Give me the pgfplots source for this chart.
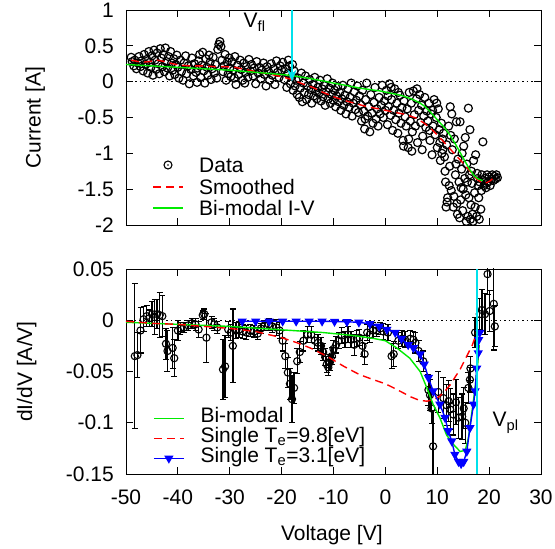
\documentclass[border=0pt]{standalone}
\usepackage{fontspec}
\setmainfont{Liberation Sans}
\usepackage{pgfplots}
\usepackage{pgfplotstable}
\pgfplotsset{compat=1.18}
\usetikzlibrary{arrows.meta}
\definecolor{gpgreen}{RGB}{0,235,0}
\definecolor{gpred}{RGB}{255,0,0}
\definecolor{gpblue}{RGB}{0,0,255}
\definecolor{gpcyan}{RGB}{0,225,235}
\newcommand{\gpfont}{\fontsize{21}{22}\selectfont}
\pgfplotsset{gp/.style={
  scale only axis, width=415pt,
  xmin=-50, xmax=30,
  xtick={-50,-40,-30,-20,-10,0,10,20,30},
  tick align=inside, xtick pos=both, ytick pos=both,
  major tick length=7pt,
  axis line style={line width=0.9pt},
  every tick/.style={black, line width=0.9pt},
  tick label style={font=\gpfont},
  label style={font=\gpfont},
  yticklabel style={xshift=-5pt},
  xticklabel style={yshift=-9pt},
  clip marker paths=true,
  legend style={draw=none, fill=none, font=\gpfont, inner sep=0pt,
    column sep=16pt, row sep=-1.5pt,
    nodes={inner sep=0pt, text height=15pt, text depth=6.5pt}},
  legend cell align=left,
  legend image code/.code={\draw[mark repeat=2,mark phase=2,##1] plot coordinates {(0pt,0pt) (15pt,0pt) (30pt,0pt)};},
}}
\pgfplotstableread{
V D E
-48.3 -0.035 0.071
-47.8 -0.034 0.022
-47.2 -0.010 0.022
-46.6 0.001 0.012
-46.0 0.004 0.010
-45.5 0.002 0.008
-45.0 0.006 0.012
-44.5 0.003 0.017
-44.0 0.006 0.014
-43.5 0.005 0.022
-43.0 0.004 0.020
-42.3 -0.023 0.015
-42.0 -0.030 0.020
-41.0 -0.027 0.020
-40.7 -0.037 0.018
-40.0 -0.010 0.010
-39.5 -0.008 0.006
-38.8 -0.007 0.005
-38.0 -0.005 0.005
-37.3 -0.003 0.005
-36.6 -0.004 0.006
-36.0 -0.009 0.008
-35.2 0.005 0.004
-34.9 0.006 0.005
-34.5 -0.017 0.024
-33.5 -0.002 0.006
-33.0 -0.004 0.006
-32.4 -0.007 0.006
-31.3 -0.048 0.029
-30.9 -0.045 0.030
-30.3 -0.009 0.008
-29.8 -0.012 0.008
-29.4 -0.025 0.036
-28.8 -0.010 0.008
-28.2 -0.009 0.008
-27.5 -0.011 0.007
-26.8 -0.012 0.007
-26.0 -0.010 0.006
-25.3 -0.011 0.006
-24.6 -0.013 0.006
-24.0 -0.008 0.005
-23.3 -0.005 0.005
-22.5 -0.004 0.006
-21.8 -0.006 0.006
-21.0 -0.007 0.008
-20.4 -0.010 0.008
-19.8 -0.020 0.010
-19.3 -0.035 0.012
-18.8 -0.051 0.015
-18.4 -0.062 0.015
-18.0 -0.077 0.023
-17.6 -0.066 0.015
-17.0 -0.040 0.012
-16.5 -0.031 0.010
-15.8 -0.020 0.010
-15.0 -0.014 0.008
-14.3 -0.014 0.008
-13.6 -0.020 0.008
-13.0 -0.022 0.008
-12.4 -0.025 0.008
-12.0 -0.031 0.008
-11.6 -0.036 0.008
-11.3 -0.043 0.008
-11.0 -0.046 0.008
-10.7 -0.041 0.008
-10.3 -0.035 0.008
-10.0 -0.028 0.008
-9.5 -0.024 0.008
-9.0 -0.020 0.008
-8.4 -0.015 0.008
-7.8 -0.019 0.008
-7.2 -0.014 0.008
-6.6 -0.019 0.008
-6.0 -0.024 0.010
-5.5 -0.018 0.008
-5.0 -0.017 0.008
-4.4 -0.025 0.010
-4.0 -0.033 0.010
-3.5 -0.012 0.008
-3.0 -0.014 0.008
-2.4 -0.010 0.008
-1.7 -0.010 0.006
-1.0 -0.008 0.006
-0.4 -0.011 0.008
0.5 -0.012 0.008
1.2 -0.035 0.012
1.6 -0.033 0.012
2.5 -0.020 0.008
3.2 -0.018 0.008
3.8 -0.019 0.008
4.8 -0.018 0.008
5.4 -0.019 0.008
5.8 -0.022 0.010
6.4 -0.030 0.010
7.3 -0.040 0.010
8.3 -0.068 0.015
8.6 -0.073 0.015
8.9 -0.086 0.015
9.2 -0.123 0.035
10.2 -0.070 0.020
11.2 -0.076 0.020
11.8 -0.083 0.020
12.2 -0.079 0.020
12.5 -0.087 0.020
13.1 -0.092 0.020
13.6 -0.080 0.022
14.1 -0.095 0.020
14.8 -0.094 0.022
15.1 -0.086 0.020
15.4 -0.100 0.020
16.0 -0.066 0.015
16.3 -0.058 0.012
16.4 -0.047 0.012
17.3 -0.012 0.015
18.2 0.006 0.015
18.6 0.010 0.020
19.2 0.006 0.020
19.7 0.045 0.020
20.1 0.009 0.020
20.9 0.016 0.045
21.1 -0.006 0.020
}\dIdVdata
\begin{document}
\gpfont
\begin{tikzpicture}
\useasboundingbox (0pt,0pt) rectangle (555pt,549pt);
% ---------------- top panel ----------------
\begin{axis}[gp, at={(126pt,324pt)}, anchor=south west, height=215pt,
  ymin=-2, ymax=1,
  ytick={-2,-1.5,-1,-0.5,0,0.5,1},
  yticklabels={-2,-1.5,-1,-0.5,0,0.5,1},
  xticklabels={},
  ylabel={Current [A]},
  ylabel style={at={(axis description cs:-0.219,0.5)}, anchor=center}]
\addplot[black, dash pattern=on 1.5pt off 3pt, line width=0.9pt, forget plot] coordinates {(-50,0) (30,0)};
\addplot[black, only marks, mark=o, mark size=4pt, line width=1.2pt, forget plot] coordinates {
(-49.0,0.34) (-48.8,0.28) (-48.5,0.22) (-48.3,0.30) (-48.0,0.18) (-47.7,0.26) (-47.5,0.35) (-47.2,0.21) (-47.0,0.29) (-46.7,0.15) (-46.5,0.38) (-46.2,0.24)
(-46.0,0.31) (-45.8,0.12) (-45.6,0.42) (-45.4,0.27) (-45.2,0.20) (-45.0,0.36) (-44.8,0.09) (-44.6,0.44) (-44.4,0.30) (-44.2,0.17) (-44.0,0.40) (-43.8,0.25) (-43.6,0.11) (-43.4,0.46) (-43.2,0.33) (-43.0,0.21) (-42.8,0.38) (-42.6,0.14) (-42.4,0.47) (-42.2,0.28) (-42.0,0.19) (-41.8,0.35) (-41.6,0.08) (-41.4,0.42) (-41.2,0.26) (-41.0,0.16) (-40.8,0.32) (-40.6,0.10) (-40.4,0.24) (-40.2,0.37)
(-40.0,0.20) (-39.8,0.05) (-39.5,0.30) (-39.3,0.14) (-39.0,0.02) (-38.8,0.26) (-38.5,0.36) (-38.3,0.11) (-38.0,0.22) (-37.8,-0.03) (-37.5,0.17) (-37.3,0.33) (-37.0,0.08) (-36.8,0.25) (-36.5,0.13) (-36.3,-0.01) (-36.0,0.29) (-36.2,0.19)
(-35.8,0.38) (-35.6,0.06) (-35.4,0.23) (-35.2,0.41) (-35.0,0.15) (-34.8,-0.02) (-34.6,0.32) (-34.4,0.20) (-34.2,0.09) (-34.0,0.37) (-33.8,0.27) (-33.6,0.03) (-33.4,0.18) (-33.2,0.34) (-33.0,0.12) (-32.8,0.24) (-32.5,0.05) (-32.3,0.45) (-32.1,0.52) (-31.9,0.56) (-31.7,0.49) (-31.5,0.30) (-31.3,0.14) (-31.1,0.22) (-30.9,0.38) (-30.7,0.02) (-30.5,0.27) (-30.3,0.11) (-30.1,0.33) (-30.0,0.19)
(-29.8,0.07) (-29.6,0.28) (-29.3,0.16) (-29.0,0.35) (-28.8,-0.04) (-28.5,0.23) (-28.3,0.10) (-28.0,0.30) (-27.8,0.17) (-27.5,0.02) (-27.3,0.26) (-27.0,0.13) (-26.8,0.21) (-26.5,0.06) (-26.3,0.31) (-26.0,0.15) (-29.1,0.05) (-27.1,-0.02)
(-25.8,0.24) (-25.5,0.08) (-25.3,0.19) (-25.0,-0.03) (-24.8,0.28) (-24.5,0.12) (-24.3,0.20) (-24.0,0.04) (-23.8,0.16) (-23.5,0.26) (-23.3,0.10) (-23.0,-0.06) (-22.8,0.21) (-22.5,0.14) (-22.3,0.02) (-22.0,0.25) (-21.8,0.09) (-21.5,0.18) (-21.3,-0.04) (-21.0,0.29) (-20.8,0.13) (-20.5,0.06) (-20.3,0.22) (-20.0,0.16)
(-19.8,0.27) (-19.5,0.03) (-19.3,0.18) (-19.0,-0.08) (-18.8,0.11) (-18.5,0.22) (-18.3,-0.03) (-18.0,0.07) (-17.8,-0.12) (-17.6,0.15) (-17.4,-0.06) (-17.2,0.02) (-17.0,-0.18) (-18.7,0.30) (-17.9,0.24)
(-16.8,0.05) (-16.6,-0.22) (-16.4,-0.09) (-16.2,0.12) (-16.0,-0.28) (-15.8,-0.02) (-15.6,-0.15) (-15.4,0.08) (-15.2,-0.25) (-15.0,-0.06) (-14.8,-0.18) (-14.6,0.03) (-14.4,-0.11) (-14.2,-0.30) (-14.0,-0.04) (-13.8,-0.20) (-13.6,0.06) (-13.4,-0.13) (-13.2,-0.24) (-13.0,-0.08)
(-12.8,-0.16) (-12.6,0.02) (-12.4,-0.27) (-12.2,-0.10) (-12.0,-0.21) (-11.8,-0.05) (-11.6,-0.33) (-11.4,-0.14) (-11.2,0.04) (-11.0,-0.24) (-10.8,-0.09) (-10.6,-0.30) (-10.4,-0.18) (-10.2,-0.02) (-10.0,-0.26) (-9.8,-0.12) (-9.6,-0.35) (-9.4,-0.20) (-9.2,-0.07) (-9.0,-0.28)
(-8.8,-0.15) (-8.6,-0.40) (-8.4,-0.24) (-8.2,-0.05) (-8.0,-0.33) (-7.8,-0.19) (-7.6,-0.45) (-7.4,-0.28) (-7.2,-0.10) (-7.0,-0.36) (-6.8,-0.22) (-6.6,-0.02) (-6.4,-0.48) (-6.2,-0.30) (-6.0,-0.14) (-5.8,-0.39) (-5.6,-0.26) (-5.4,-0.06) (-5.2,-0.43) (-5.0,-0.20)
(-4.8,-0.32) (-4.6,-0.55) (-4.4,-0.12) (-4.2,-0.41) (-4.0,-0.66) (-3.8,-0.25) (-3.6,-0.02) (-3.4,-0.48) (-3.2,-0.35) (-3.0,-0.70) (-2.8,-0.18) (-2.6,-0.44) (-2.4,-0.58) (-2.2,-0.29) (-2.0,-0.08) (-1.8,-0.52) (-1.6,-0.38) (-1.4,-0.62) (-1.2,-0.22) (-1.0,-0.45) (-0.8,-0.33) (-0.6,-0.05) (-0.4,-0.50) (-0.2,-0.27) (0.0,-0.40) (-3.9,-0.52)
(0.2,-0.12) (0.4,-0.60) (0.6,-0.35) (0.8,-0.03) (1.0,-0.47) (1.2,-0.25) (1.4,-0.68) (1.6,-0.40) (1.8,-0.10) (2.0,-0.53) (2.2,-0.30) (2.4,-0.72) (2.6,-0.44) (2.8,-0.19) (3.0,-0.58) (3.2,-0.36) (3.4,-0.82) (3.6,-0.27) (3.8,-0.49) (4.0,-0.62) (1.1,-0.08) (2.5,-0.15) (3.5,-0.90) (0.5,-0.20)
(4.2,-0.38) (4.4,-0.92) (4.6,-0.15) (4.8,-0.55) (5.0,-0.30) (5.2,-0.70) (5.4,-0.13) (5.6,-0.46) (5.8,-0.62) (6.0,-0.24) (6.2,-0.85) (6.4,-0.40) (6.6,-0.18) (6.8,-0.57) (7.0,-0.33) (7.2,-0.76) (7.4,-0.48) (7.6,-0.22) (7.8,-0.64) (8.0,-0.41) (5.1,-0.97) (6.1,-0.10) (7.1,-0.95) (4.5,-0.80)
(8.2,-0.55) (8.4,-0.30) (8.6,-0.82) (8.8,-0.45) (9.0,-1.02) (9.2,-0.62) (9.4,-0.25) (9.6,-0.74) (9.8,-0.50) (10.0,-0.92) (10.2,-0.38) (10.4,-0.67) (10.6,-1.10) (10.8,-0.58) (11.0,-0.80) (9.1,-0.40) (9.9,-0.30) (10.5,-0.85) (8.5,-0.68) (10.9,-1.00)
(11.2,-0.72) (11.4,-1.05) (11.6,-1.40) (11.8,-0.88) (12.0,-1.62) (12.2,-0.62) (12.4,-1.18) (12.5,-0.35) (12.7,-1.52) (12.9,-0.95) (13.1,-1.75) (13.3,-0.80) (13.5,-1.30) (13.7,-0.56) (13.9,-1.85) (14.0,-1.08) (11.5,-1.25) (11.9,-1.68) (12.3,-1.45) (12.8,-0.45) (13.2,-1.60) (13.6,-1.15) (11.1,-0.95) (12.6,-0.75) (13.8,-1.70) (11.7,-1.75)
(14.2,-1.40) (14.4,-0.56) (14.5,-1.65) (14.7,-1.22) (14.9,-1.80) (15.1,-0.90) (15.3,-1.35) (15.5,-1.58) (15.7,-1.15) (15.9,-1.88) (16.0,-0.37) (16.2,-1.30) (16.3,-0.67) (16.5,-1.72) (16.7,-1.42) (16.9,-1.95) (17.0,-1.10) (14.3,-1.90) (14.8,-1.00) (15.0,-1.50) (15.6,-1.95) (16.1,-1.62) (16.6,-1.25) (15.4,-0.78) (14.6,-1.48) (16.8,-1.85) (15.8,-1.40) (16.4,-1.92)
(17.2,-1.55) (17.4,-1.02) (17.6,-1.88) (17.8,-1.35) (18.0,-1.62) (18.2,-1.40) (18.4,-1.78) (18.6,-1.30) (18.8,-0.84) (19.0,-1.45) (17.3,-1.75) (17.7,-1.28) (18.1,-1.92) (18.5,-1.52) (18.9,-1.38) (17.9,-1.45)
(19.2,-1.35) (19.4,-1.48) (19.6,-1.30) (19.8,-1.40) (20.0,-1.33) (20.2,-1.45) (20.4,-1.36) (20.6,-1.30) (20.8,-1.38) (21.0,-1.32) (21.2,-1.36) (21.4,-1.30) (21.6,-1.34) (19.5,-1.42)
};
\addplot[gpred, line width=1.4pt, dash pattern=on 8pt off 5pt, forget plot] coordinates {
(-49,0.30) (-47,0.27) (-45.5,0.28) (-44,0.30) (-42.5,0.28) (-41,0.25) (-39.5,0.23) (-37.5,0.22) (-35,0.22) (-33,0.21) (-31,0.21) (-29,0.20) (-27,0.17) (-25,0.14) (-22,0.10) (-20,0.07) (-18,0.03) (-16,-0.03) (-14,-0.08) (-12,-0.15) (-10,-0.21) (-8,-0.26) (-6,-0.30) (-4,-0.34) (-2,-0.37) (0,-0.40) (2,-0.43) (4,-0.46) (6,-0.51) (7.5,-0.58) (9,-0.67) (10.5,-0.78) (12,-0.90) (13,-0.98) (14.4,-1.09) (15.5,-1.18) (16.6,-1.27) (17.6,-1.36) (18.6,-1.41) (19.5,-1.41) (20.3,-1.38) (21.1,-1.32)
};
\addplot[gpgreen, line width=1.4pt, forget plot] coordinates {
(-50,0.24) (-45,0.22) (-40,0.20) (-35,0.18) (-30,0.16) (-25,0.13) (-20,0.10) (-18,0.085) (-15,0.05) (-12,0.01) (-10,-0.02) (-7,-0.06) (-5,-0.09) (-3,-0.11) (-1,-0.13) (1,-0.16) (3,-0.19) (5,-0.24) (6.5,-0.29) (7.5,-0.34) (8.5,-0.41) (9.5,-0.49) (10.5,-0.57) (11.5,-0.65) (12.5,-0.75) (13.5,-0.87) (14.5,-1.00) (15.5,-1.13) (16.3,-1.23) (17,-1.30) (17.7,-1.35) (18.3,-1.37) (18.8,-1.38)
};
\addplot[gpcyan, line width=1.7pt, forget plot, -{Stealth[length=12pt,width=9pt]}] coordinates {(-18,1) (-18,0)};
\node[font=\gpfont] at (axis cs:-25.2,0.83) {V\textsubscript{fl}};
\end{axis}
% top-panel key, drawn outside the axis
\draw[black, line width=1.1pt] (168pt,384pt) circle[radius=4pt];
\fill[black] (168pt,384pt) circle[radius=0.8pt];
\node[anchor=base west, inner sep=0pt, font=\gpfont] at (199pt,376.5pt) {Data};
\draw[draw=gpred, color=gpred, line width=1.4pt, dash pattern=on 8pt off 5pt] (153pt,362pt) -- (183pt,362pt);
\node[anchor=base west, inner sep=0pt, font=\gpfont, text=black] at (199pt,354.5pt) {Smoothed};
\draw[draw=gpgreen, color=gpgreen, line width=1.4pt] (153pt,341pt) -- (183pt,341pt);
\node[anchor=base west, inner sep=0pt, font=\gpfont, text=black] at (199pt,333.5pt) {Bi-modal I-V};
% ---------------- bottom panel ----------------
\begin{axis}[gp, at={(126pt,75pt)}, anchor=south west, height=205pt,
  ymin=-0.15, ymax=0.05,
  ytick={-0.15,-0.1,-0.05,0,0.05},
  yticklabels={-0.15,-0.1,-0.05,0,0.05},
  xticklabels={-50,-40,-30,-20,-10,0,10,20,30},
  xlabel={Voltage [V]},
  xlabel style={at={(axis description cs:0.496,-0.298)}, anchor=center},
  ylabel={dI/dV [A/V]},
  ylabel style={at={(axis description cs:-0.239,0.5)}, anchor=center},
  legend style={at={(axis description cs:0.065,0.325)}, anchor=north west}]
\addlegendimage{draw=gpgreen, line width=1.4pt}
\addlegendentry{Bi-modal}
\addlegendimage{draw=gpred, line width=1.4pt, dash pattern=on 8pt off 5pt}
\addlegendentry{Single T\textsubscript{e}=9.8[eV]}
\addlegendimage{draw=gpblue, line width=1.4pt, mark=triangle*, mark size=4pt, mark options={rotate=180, fill=gpblue, draw=gpblue}}
\addlegendentry{Single T\textsubscript{e}=3.1[eV]}
\addplot[black, dash pattern=on 1.5pt off 3pt, line width=0.9pt, forget plot] coordinates {(-50,0) (30,0)};
\addplot[black, only marks, mark=o, mark size=3.6pt, line width=1.1pt, forget plot,
  error bars/.cd, y dir=both, y explicit,
  error bar style={line width=1.3pt, black},
  error mark options={black, mark size=3pt, line width=1.1pt, rotate=90}]
  table[x=V, y=D, y error=E] {\dIdVdata};
\addplot[gpgreen, line width=1.4pt, forget plot] coordinates {
(-50,-0.002) (-40,-0.004) (-30,-0.006) (-24,-0.008) (-18,-0.010) (-12,-0.012) (-6,-0.015) (-2,-0.018) (0,-0.020) (2.2,-0.027) (4.7,-0.037) (6.7,-0.050) (8,-0.066) (9.2,-0.082) (10.5,-0.095) (11.8,-0.112) (13.1,-0.121) (14.4,-0.128) (15.4,-0.127) (16,-0.115) (16.7,-0.089) (17.3,-0.066) (17.8,-0.043) (18.1,-0.024)
};
\addplot[gpred, line width=1.4pt, dash pattern=on 8pt off 5pt, forget plot] coordinates {
(-50,-0.001) (-45,-0.003) (-40,-0.004) (-35,-0.006) (-30,-0.008) (-25,-0.011) (-20,-0.017) (-17,-0.022) (-14.5,-0.027) (-11.3,-0.035) (-8,-0.045) (-5,-0.053) (-2.3,-0.058) (0,-0.062) (2,-0.067) (3.5,-0.071) (5,-0.075) (6.5,-0.078) (8,-0.079) (9.5,-0.077) (10.5,-0.074) (11.5,-0.069) (12.5,-0.063) (13.5,-0.055) (14.4,-0.048) (15.2,-0.040) (16,-0.032) (16.7,-0.025) (17.2,-0.018) (17.7,-0.010)
};
\addplot[gpblue, line width=1.4pt, mark=triangle*, mark size=4pt, mark options={rotate=180, fill=gpblue, draw=gpblue}, forget plot] coordinates {
(-27.6,-0.001) (-25.0,-0.001) (-22.4,-0.001) (-19.8,-0.001) (-17.2,-0.001) (-14.7,-0.001) (-12.2,-0.001) (-9.8,-0.0012) (-7.4,-0.0015) (-5.1,-0.002) (-3.0,-0.0035) (-1.2,-0.006) (0.3,-0.009) (1.9,-0.012) (3.1,-0.018) (4.4,-0.024) (5.4,-0.027) (6.7,-0.033) (7.5,-0.043) (8.3,-0.056) (9.2,-0.069) (10.5,-0.082) (11.5,-0.095) (12.1,-0.108) (12.8,-0.118) (13.4,-0.131) (14.1,-0.138) (14.6,-0.140) (15.1,-0.138) (15.7,-0.128) (16.3,-0.105) (17.0,-0.082) (17.3,-0.069) (17.6,-0.047) (17.9,-0.032) (18.0,-0.019) (18.2,-0.012)
};
\addplot[gpcyan, line width=1.7pt, forget plot] coordinates {(17.7,-0.15) (17.7,0.05)};
\node[font=\gpfont, anchor=west] at (axis cs:19.3,-0.1) {V\textsubscript{pl}};
\end{axis}
\end{tikzpicture}
\end{document}
